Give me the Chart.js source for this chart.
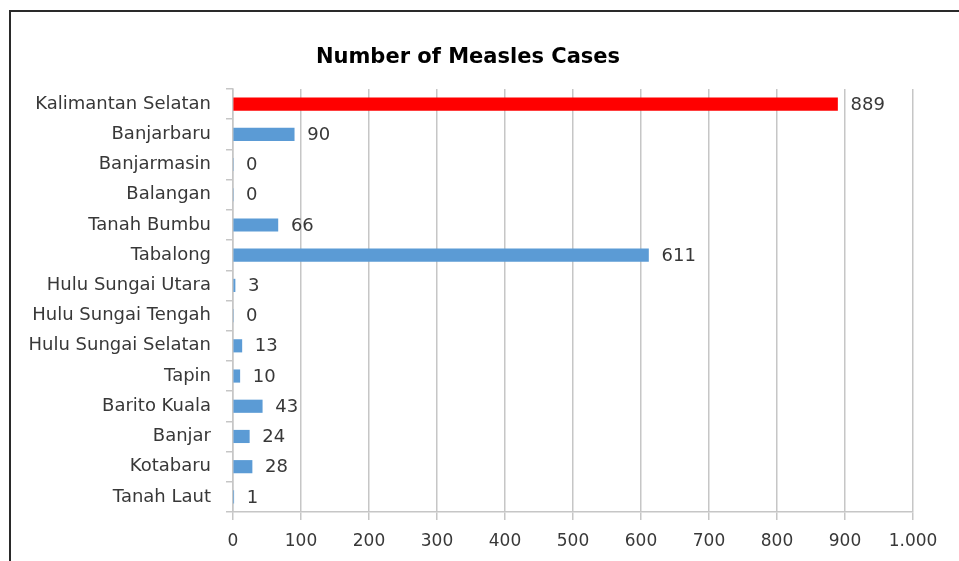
<!DOCTYPE html>
<html>
<head>
<meta charset="utf-8">
<script src="https://cdn.jsdelivr.net/npm/chart.js@4/dist/chart.umd.min.js"></script>
<style>
  html, body { margin: 0; padding: 0; background: #fff; overflow: hidden; }
  #wrap { position: relative; width: 959px; height: 561px; }
  #frame { position: absolute; left: 9px; top: 10px; width: 1000px; height: 600px;
           border-left: 2px solid #2a2a2a; border-top: 2px solid #2a2a2a; }
  canvas { position: absolute; left: 0; top: 0; }
</style>
</head>
<body>
<div id="wrap">
  <div id="frame"></div>
  <canvas id="c" width="959" height="561"></canvas>
</div>
<script>
const chartTitle = 'Number of Measles Cases';
const regions = [
  'Kalimantan Selatan', 'Banjarbaru', 'Banjarmasin', 'Balangan', 'Tanah Bumbu',
  'Tabalong', 'Hulu Sungai Utara', 'Hulu Sungai Tengah', 'Hulu Sungai Selatan',
  'Tapin', 'Barito Kuala', 'Banjar', 'Kotabaru', 'Tanah Laut'
];
const cases = [889, 90, 0, 0, 66, 611, 3, 0, 13, 10, 43, 24, 28, 1];
const xTicks = [0, 100, 200, 300, 400, 500, 600, 700, 800, 900, 1000];

const FONT = '"DejaVu Sans", sans-serif';
const TEXT = '#383838';
const GRID = '#c6c6c6';

const barColors = regions.map(r => r === 'Kalimantan Selatan' ? '#ff0000' : '#5b9bd5');

// value printed just past the end of each bar
const valueLabels = {
  id: 'valueLabels',
  afterDatasetsDraw(chart) {
    const ctx = chart.ctx;
    const meta = chart.getDatasetMeta(0);
    ctx.save();
    ctx.font = '18px ' + FONT;
    ctx.fillStyle = TEXT;
    ctx.textAlign = 'left';
    ctx.textBaseline = 'middle';
    meta.data.forEach((bar, i) => {
      ctx.fillText(String(cases[i]), bar.x + 13, bar.y + 1);
    });
    ctx.restore();
  }
};

// chart heading, centred over the framed panel
const heading = {
  id: 'heading',
  afterDraw(chart) {
    const ctx = chart.ctx;
    ctx.save();
    ctx.font = 'bold 21px ' + FONT;
    ctx.fillStyle = '#000';
    ctx.textAlign = 'center';
    ctx.textBaseline = 'middle';
    ctx.fillText(chartTitle, 468, 58);
    ctx.restore();
  }
};

new Chart(document.getElementById('c'), {
  type: 'bar',
  data: {
    labels: regions,
    datasets: [{
      data: cases,
      backgroundColor: barColors,
      borderWidth: 0,
      barThickness: 12.5
    }]
  },
  options: {
    indexAxis: 'y',
    responsive: false,
    animation: false,
    layout: { padding: { top: 89, left: 10, right: 46, bottom: 0 } },
    plugins: { legend: { display: false }, title: { display: false }, tooltip: { enabled: false } },
    scales: {
      x: {
        min: 0, max: 1000,
        afterBuildTicks(scale) { scale.ticks = xTicks.map(v => ({ value: v })); },
        afterFit(scale) { scale.height = 49; },
        grid: { color: GRID, lineWidth: 1.5, tickLength: 8, drawTicks: true },
        border: { color: GRID, width: 1.5 },
        ticks: {
          font: { family: FONT, size: 17 },
          color: TEXT,
          padding: 11,
          callback: v => v >= 1000 ? v.toLocaleString('de-DE') : String(v)
        }
      },
      y: {
        afterFit(scale) { scale.width = 223; },
        grid: { drawOnChartArea: false, color: GRID, lineWidth: 1.5, tickLength: 7, offset: true },
        border: { color: GRID, width: 1.5 },
        ticks: {
          font: { family: FONT, size: 18 },
          color: TEXT,
          padding: 15
        }
      }
    }
  },
  plugins: [valueLabels, heading]
});
</script>
</body>
</html>
